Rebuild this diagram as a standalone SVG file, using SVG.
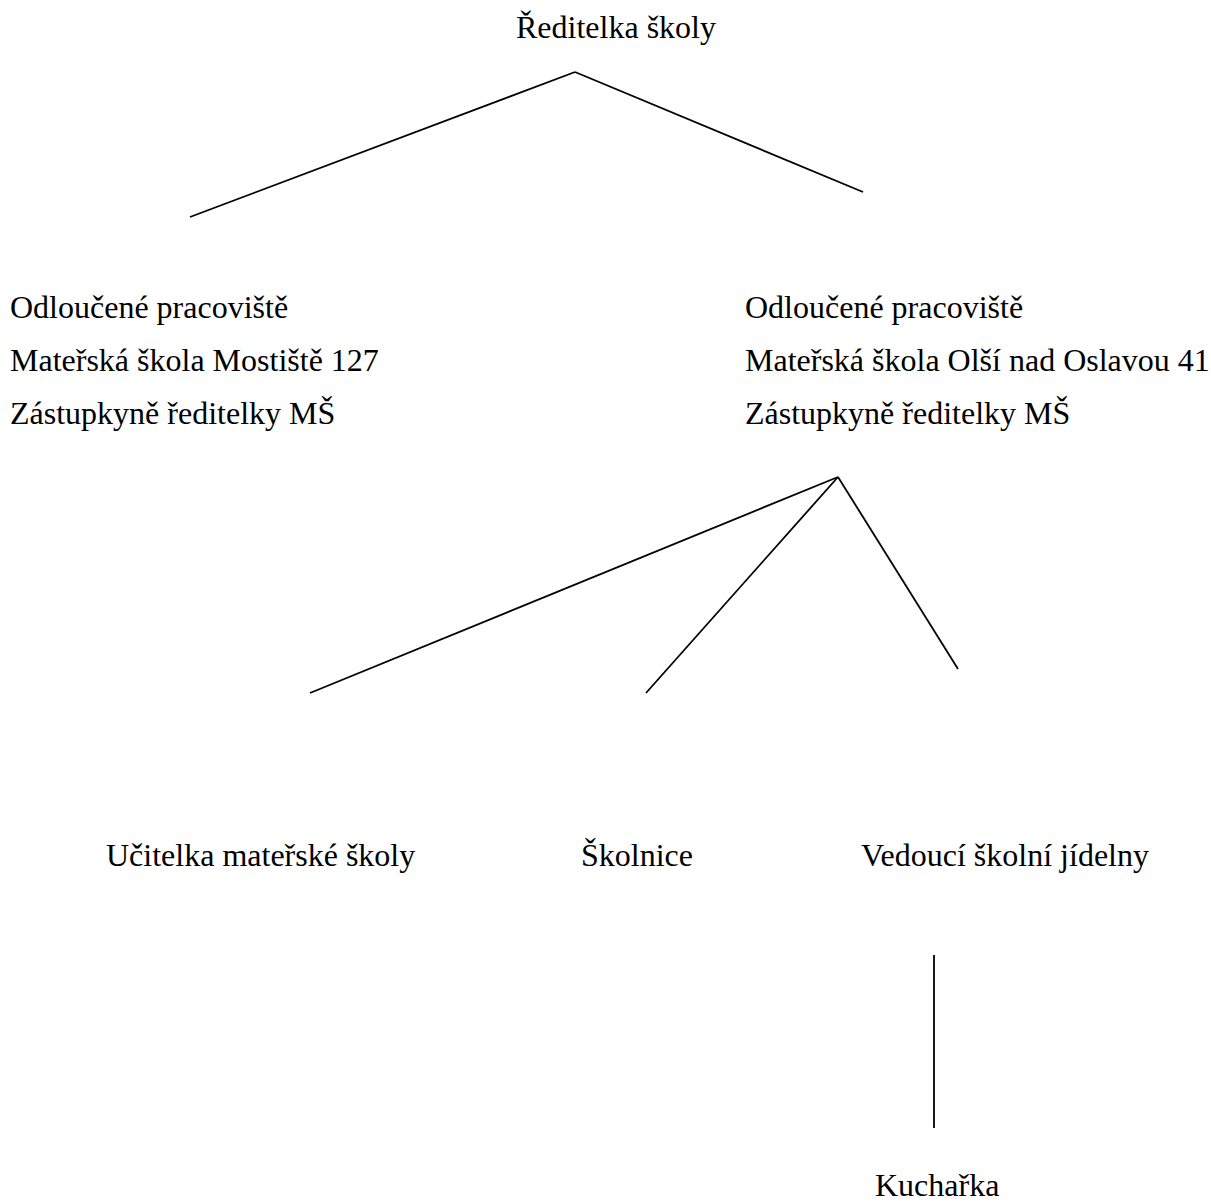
<svg xmlns="http://www.w3.org/2000/svg" width="1211" height="1202" viewBox="0 0 1211 1202">
<style>
text{font-family:"Liberation Serif","Times New Roman",serif;font-size:32px;fill:#000}
.c line{stroke:#000;stroke-width:1.8;fill:none}
</style>
<rect width="1211" height="1202" fill="#fff"/>
<g id="n-reditelka"><text x="516" y="38">Ředitelka školy</text></g>
<g id="n-mostiste"><text x="10" y="318">Odloučené pracoviště</text><text x="10" y="371">Mateřská škola Mostiště 127</text><text x="10" y="424">Zástupkyně ředitelky MŠ</text></g>
<g id="n-olsi"><text x="745" y="318">Odloučené pracoviště</text><text x="745" y="371">Mateřská škola Olší nad Oslavou 41</text><text x="745" y="424">Zástupkyně ředitelky MŠ</text></g>
<g id="n-ucitelka"><text x="106" y="866">Učitelka mateřské školy</text></g>
<g id="n-skolnice"><text x="581" y="866">Školnice</text></g>
<g id="n-vedouci"><text x="861" y="866">Vedoucí školní jídelny</text></g>
<g id="n-kucharka"><text x="875" y="1196">Kuchařka</text></g>
<g id="connectors" class="c">
<line x1="575" y1="72" x2="190" y2="217"/>
<line x1="575" y1="72" x2="863" y2="192"/>
<line x1="838" y1="477" x2="310" y2="693"/>
<line x1="838" y1="477" x2="646" y2="693"/>
<line x1="838" y1="477" x2="958" y2="669"/>
<line x1="934" y1="955" x2="934" y2="1128"/>
</g>
</svg>
